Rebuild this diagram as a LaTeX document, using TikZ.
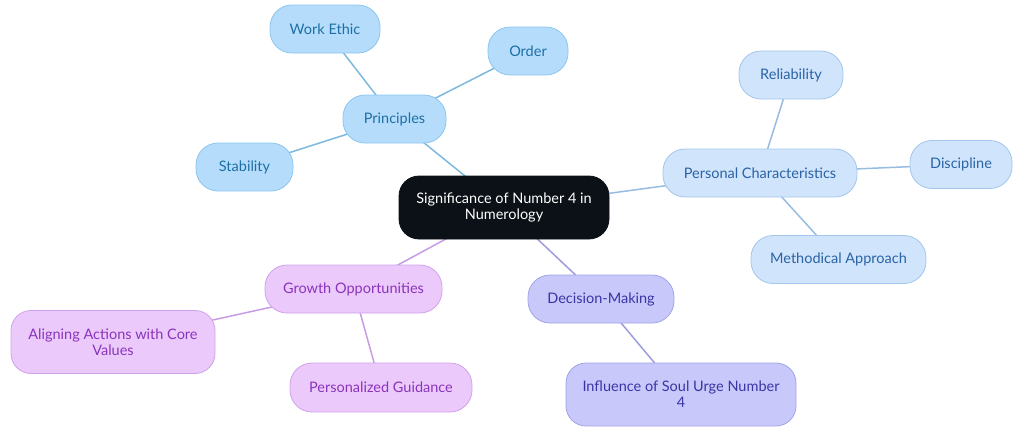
\documentclass[tikz,border=0pt]{standalone}
\usepackage{fontspec}
\setmainfont{Lato}
\usetikzlibrary{backgrounds}
\definecolor{cblk}{HTML}{0B1117}
\definecolor{pfill}{HTML}{B5DDFB}
\definecolor{pdraw}{HTML}{8CC6EE}
\definecolor{ptext}{HTML}{1D6FA5}
\definecolor{pedge}{HTML}{7DB9DF}
\definecolor{cfill}{HTML}{D0E4FB}
\definecolor{cdraw}{HTML}{A3C6EC}
\definecolor{ctext}{HTML}{2A63A6}
\definecolor{cedge}{HTML}{96BCE2}
\definecolor{dfill}{HTML}{C8C9FA}
\definecolor{ddraw}{HTML}{A2A3E6}
\definecolor{dtext}{HTML}{3A34A6}
\definecolor{dedge}{HTML}{9C9CDE}
\definecolor{gfill}{HTML}{EBCAFB}
\definecolor{gdraw}{HTML}{CFA2EA}
\definecolor{gtext}{HTML}{8A34BC}
\definecolor{gedge}{HTML}{C79CE3}
\tikzset{
  box/.style={rounded corners=22pt, inner sep=0pt, align=center, font=\fontsize{14.5}{16}\selectfont, line width=0.8pt},
  pbox/.style={box, fill=pfill, draw=pdraw, text=ptext},
  cbox/.style={box, fill=cfill, draw=cdraw, text=ctext},
  dbox/.style={box, fill=dfill, draw=ddraw, text=dtext},
  gbox/.style={box, fill=gfill, draw=gdraw, text=gtext},
  edge/.style={line width=1.5pt},
}
\begin{document}
\begin{tikzpicture}[x=1pt,y=-1pt]
\useasboundingbox (0,0) rectangle (1024,434);
\node[box, fill=cblk, draw=cblk, text=white, minimum width=210pt, minimum height=63pt, rounded corners=20pt] (root) at (504,207.5) {Significance of Number 4 in\\Numerology};
\node[pbox, minimum width=103pt, minimum height=48pt] (pr) at (394.5,119) {Principles};
\node[pbox, minimum width=110pt, minimum height=48pt] (we) at (325,29) {Work Ethic};
\node[pbox, minimum width=80pt, minimum height=48pt] (or) at (528,51) {Order};
\node[pbox, minimum width=97pt, minimum height=48pt] (st) at (244.5,167) {Stability};
\node[cbox, minimum width=194pt, minimum height=48pt] (pc) at (760,173) {Personal Characteristics};
\node[cbox, minimum width=104pt, minimum height=48pt] (re) at (791,75) {Reliability};
\node[cbox, minimum width=102pt, minimum height=48pt] (di) at (961,164.5) {Discipline};
\node[cbox, minimum width=175pt, minimum height=48pt] (ma) at (838.5,259.5) {Methodical Approach};
\node[dbox, minimum width=146pt, minimum height=48pt] (dm) at (601,299) {Decision-Making};
\node[dbox, minimum width=230pt, minimum height=63pt, rounded corners=20pt] (su) at (681,394.5) {Influence of Soul Urge Number\\4};
\node[gbox, minimum width=177pt, minimum height=48pt] (go) at (353.5,289) {Growth Opportunities};
\node[gbox, minimum width=204pt, minimum height=63pt, rounded corners=20pt] (al) at (113,342) {Aligning Actions with Core\\Values};
\node[gbox, minimum width=182pt, minimum height=49pt] (pg) at (381,387.5) {Personalized Guidance};
\begin{scope}[on background layer]
\draw[edge, pedge] (root.center) -- (pr.center);
\draw[edge, pedge] (pr.center) -- (we.center);
\draw[edge, pedge] (pr.center) -- (or.center);
\draw[edge, pedge] (pr.center) -- (st.center);
\draw[edge, cedge] (root.center) -- (pc.center);
\draw[edge, cedge] (pc.center) -- (re.center);
\draw[edge, cedge] (pc.center) -- (di.center);
\draw[edge, cedge] (pc.center) -- (ma.center);
\draw[edge, dedge] (root.center) -- (dm.center);
\draw[edge, dedge] (dm.center) -- (su.center);
\draw[edge, gedge] (root.center) -- (go.center);
\draw[edge, gedge] (go.center) -- (al.center);
\draw[edge, gedge] (go.center) -- (pg.center);
\end{scope}
\end{tikzpicture}
\end{document}
